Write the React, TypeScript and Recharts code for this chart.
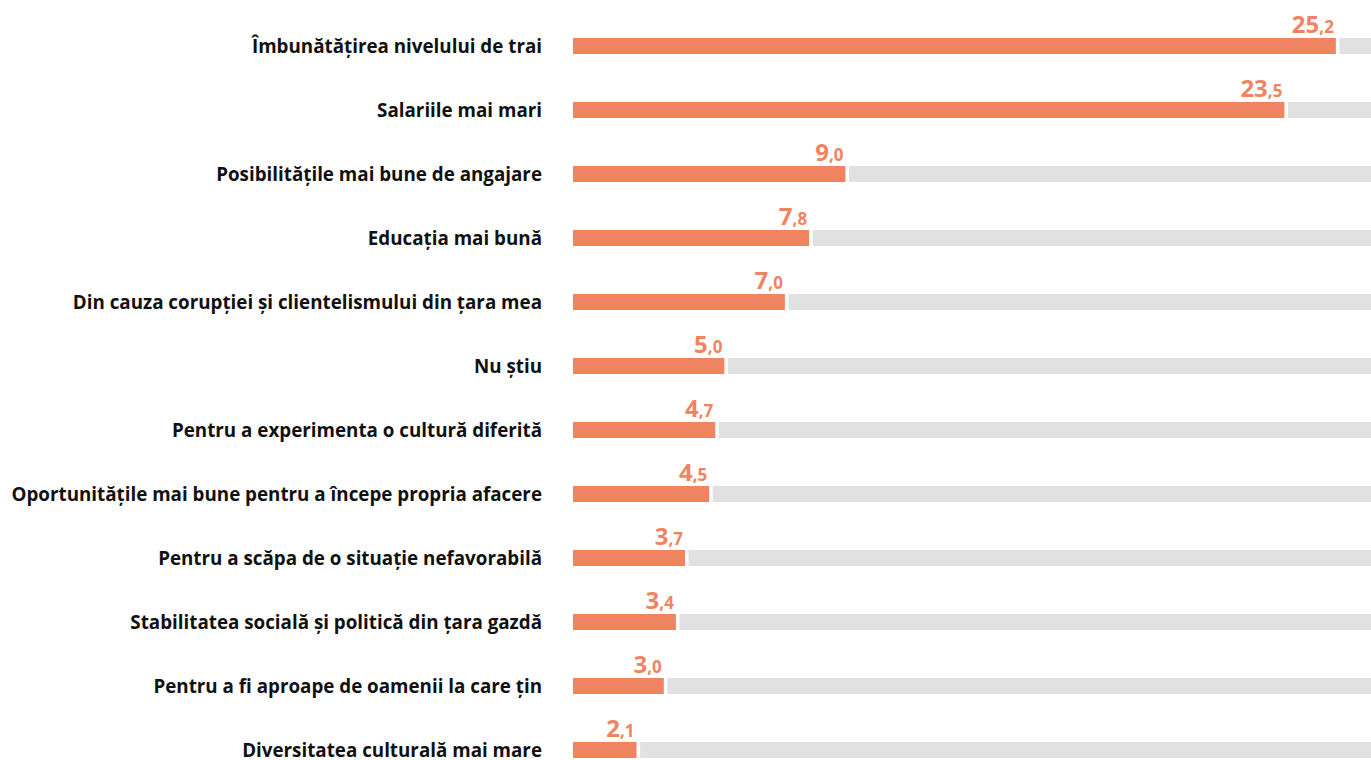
import React from "react";
import { BarChart, Bar, XAxis, YAxis, LabelList } from "recharts";

const categories = [
  "Îmbunătățirea nivelului de trai",
  "Salariile mai mari",
  "Posibilitățile mai bune de angajare",
  "Educația mai bună",
  "Din cauza corupției și clientelismului din țara mea",
  "Nu știu",
  "Pentru a experimenta o cultură diferită",
  "Oportunitățile mai bune pentru a începe propria afacere",
  "Pentru a scăpa de o situație nefavorabilă",
  "Stabilitatea socială și politică din țara gazdă",
  "Pentru a fi aproape de oamenii la care țin",
  "Diversitatea culturală mai mare",
];

const values = [25.2, 23.5, 9.0, 7.8, 7.0, 5.0, 4.7, 4.5, 3.7, 3.4, 3.0, 2.1];

// visible part of the scale (the grey track runs off the right edge)
const SCALE_MAX = 26.36;

const ORANGE = "#F08462";
const GREY = "#E1E1E1";
const FONT = "'Open Sans', sans-serif";

const data = categories.map((name, i) => ({
  name,
  value: values[i],
  rest: SCALE_MAX - values[i],
}));

const CategoryTick = (props: any) => {
  const { x, y, payload } = props;
  return (
    <text
      x={x}
      y={y}
      dy="0.36em"
      textAnchor="end"
      fontFamily={FONT}
      fontWeight={700}
      fontSize={18.8}
      fill="#111"
    >
      {payload.value}
    </text>
  );
};

const ValueLabel = (props: any) => {
  const { x, y, width, value } = props;
  const [int, dec] = Number(value).toFixed(1).split(".");
  return (
    <text
      x={x + width - 2}
      y={y - 5}
      textAnchor="end"
      fontFamily={FONT}
      fontWeight={700}
      fill={ORANGE}
    >
      <tspan fontSize={24}>{int}</tspan>
      <tspan fontSize={17}>{"," + dec}</tspan>
    </text>
  );
};

const TrackShape = (props: any) => {
  const { x, y, width, height } = props;
  const gap = 3.5;
  return <rect x={x + gap} y={y} width={Math.max(width - gap, 0)} height={height} fill={GREY} />;
};

export default function App() {
  return (
    <div
      style={{
        position: "absolute",
        left: 0,
        top: 0,
        width: 1371,
        height: 760,
        overflow: "hidden",
        background: "#fff",
      }}
    >
      <BarChart
        layout="vertical"
        width={1371}
        height={790}
        data={data}
        margin={{ top: 14, right: 0, bottom: 8, left: 0 }}
        barSize={16}
      >
        <XAxis type="number" domain={[0, SCALE_MAX]} hide allowDataOverflow />
        <YAxis
          type="category"
          dataKey="name"
          width={573}
          axisLine={false}
          tickLine={false}
          tickMargin={25}
          interval={0}
          tick={<CategoryTick />}
        />
        <Bar dataKey="value" stackId="a" fill={ORANGE} isAnimationActive={false}>
          <LabelList dataKey="value" content={<ValueLabel />} />
        </Bar>
        <Bar dataKey="rest" stackId="a" fill={GREY} shape={<TrackShape />} isAnimationActive={false} />
      </BarChart>
    </div>
  );
}
